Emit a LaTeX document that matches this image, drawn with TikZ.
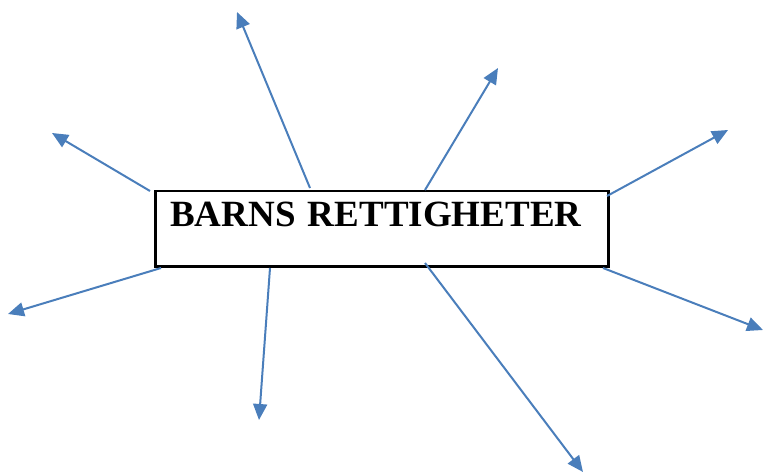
\documentclass[tikz,border=0pt]{standalone}
\usepackage{fontspec}
\setmainfont{Liberation Serif}
\usetikzlibrary{arrows.meta}
\definecolor{spokeblue}{RGB}{74,126,187}
\tikzset{
	titlebox/.style={draw=black, line width=2.5pt, align=left, text width=423pt,
		inner xsep=15pt, inner ysep=10pt, text height=25pt, text depth=30pt,
		font=\fontsize{37}{44}\selectfont\bfseries},
	spoke/.style={draw=spokeblue, line width=2pt, -{Triangle[length=16pt,width=14pt]}}
}

\begin{document}
\begin{tikzpicture}[x=1pt, y=-1pt]
      \useasboundingbox (0,0) rectangle (763,473);
      % the box
      \node[titlebox, anchor=north west] (rights) at (154,190) {BARNS RETTIGHETER};
      % arrows out of the box
      \foreach \n/\sx/\sy/\tx/\ty in {1/150/191/52/133, 2/310/188/237/12, 3/425/190/498/68,
                                       4/607/196/728/130, 5/603/268/763/330, 6/425/263/583/472,
                                       7/270/268/259/420, 8/161/268/8/314}
        {\coordinate (s\n) at (\sx,\sy); \coordinate (t\n) at (\tx,\ty); \draw[spoke] (s\n) -- (t\n);}
    \end{tikzpicture}
\end{document}
